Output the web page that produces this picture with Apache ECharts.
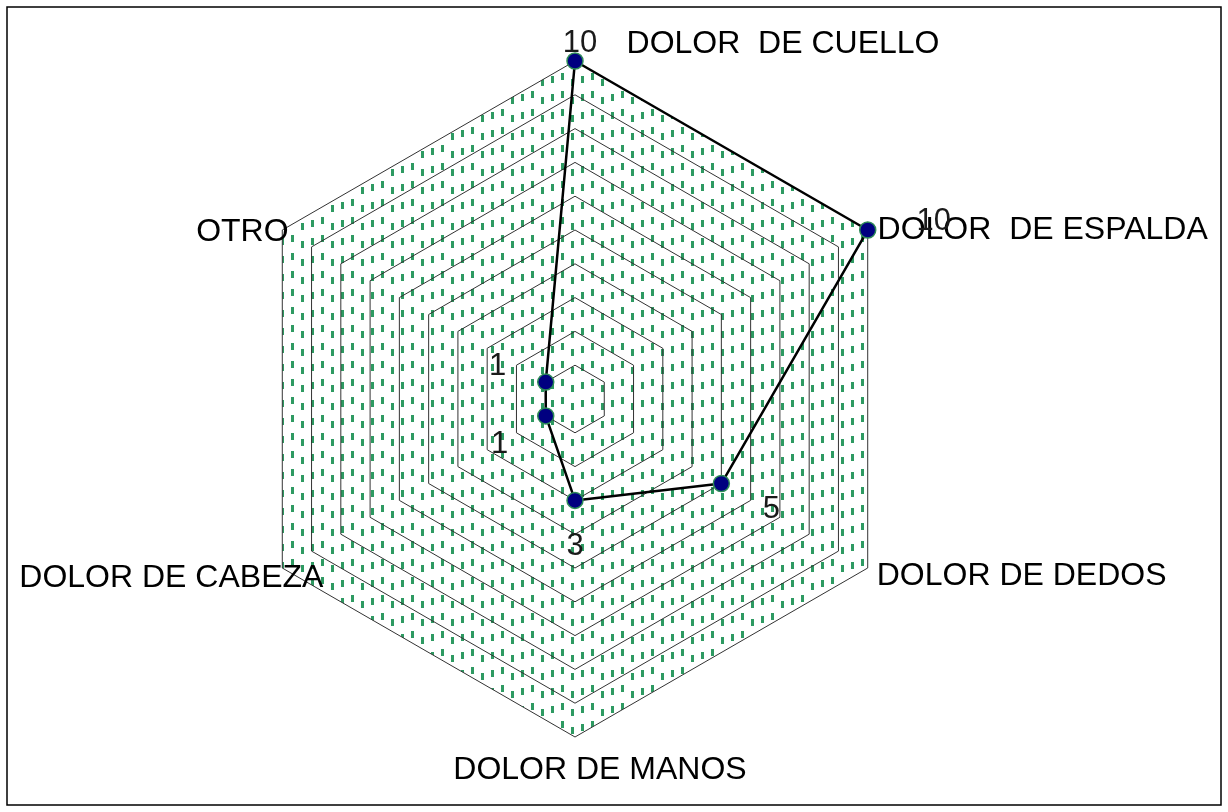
<!DOCTYPE html>
<html><head><meta charset="utf-8">
<script src="https://cdn.jsdelivr.net/npm/echarts@6/dist/echarts.min.js"></script>
<style>html,body{margin:0;padding:0;background:#fff}#c{width:1228px;height:812px}</style>
</head><body><div id="c"></div>
<script>
// ---- data (indicators listed counter-clockwise from the top) ----
const categories = ['DOLOR  DE CUELLO', 'OTRO', 'DOLOR DE CABEZA', 'DOLOR DE MANOS', 'DOLOR DE DEDOS', 'DOLOR  DE ESPALDA'];
const values = [10, 1, 1, 3, 5, 10];
const axisMax = 10;
const axisSplits = 10;

// ---- styles ----
const FONT = 'Liberation Sans, Arial, sans-serif';
const namePads = [[0, 0, 18, 416], [12, 66, 0, 0], [12, 208, 0, 0], [50, 0, 0, 50], [8, 0, 0, 294], [8, 0, 0, 336]];
const labelOffsets = [[5, -18], [-48, -16], [-46, 29], [0, 46], [50, 26], [66, -9]];

function makePattern() {
  const c = document.createElement('canvas');
  c.width = 30; c.height = 18;
  const g = c.getContext('2d');
  g.fillStyle = '#2e9a62';
  [[1, 7], [11, 4], [21, 1]].forEach(function (p) {
    [-18, 0, 18].forEach(function (d) { g.fillRect(p[0], p[1] + d, 3, 7); });
  });
  return c;
}
const pattern = { image: makePattern(), repeat: 'repeat' };

const rich = {};
categories.forEach(function (n, i) {
  rich['s' + i] = { fontSize: 32, fontFamily: FONT, color: '#000', padding: namePads[i] };
});

const mainItem = {
  value: values,
  symbol: 'circle', symbolSize: 16,
  itemStyle: { color: '#000080', borderColor: '#2e8b57', borderWidth: 1.5 },
  lineStyle: { color: '#000', width: 2.5 },
  label: { show: false }
};
const labelItems = values.map(function (v, i) {
  return {
    value: values.map(function (w, j) { return j === i ? w : '-'; }),
    symbol: 'circle', symbolSize: 1,
    itemStyle: { color: 'rgba(0,0,0,0)', borderWidth: 0 },
    lineStyle: { opacity: 0, width: 0 },
    label: {
      show: true, position: 'inside', offset: labelOffsets[i],
      fontSize: 31, fontFamily: FONT, color: '#1a1a1a',
      formatter: function (p) {
        const val = Array.isArray(p.value) ? NaN : +p.value;
        return (p.value === '-' || isNaN(val)) ? '' : String(val);
      }
    }
  };
});

const chart = echarts.init(document.getElementById('c'), null, { renderer: 'canvas' });
chart.setOption({
  animation: false,
  backgroundColor: '#fff',
  graphic: [{
    type: 'rect', z: -10, silent: true,
    shape: { x: 7, y: 7, width: 1214, height: 798 },
    style: { fill: null, stroke: '#000', lineWidth: 1.5 }
  }],
  radar: {
    center: [575, 399], radius: 338, startAngle: 90, shape: 'polygon',
    splitNumber: axisSplits,
    indicator: categories.map(function (n) { return { name: n, min: 0, max: axisMax }; }),
    nameGap: 8,
    axisName: {
      color: '#000', fontSize: 32, fontFamily: FONT,
      align: 'center', verticalAlign: 'middle',
      formatter: function (name) { return '{s' + categories.indexOf(name) + '|' + name + '}'; },
      rich: rich
    },
    splitLine: { lineStyle: { color: '#333', width: 1 } },
    splitArea: { show: true, areaStyle: { color: [pattern] } },
    axisLine: { show: false },
    axisTick: { show: false },
    axisLabel: { show: false }
  },
  series: [{
    type: 'radar', silent: true,
    data: [mainItem].concat(labelItems)
  }]
});
</script>
</body></html>
